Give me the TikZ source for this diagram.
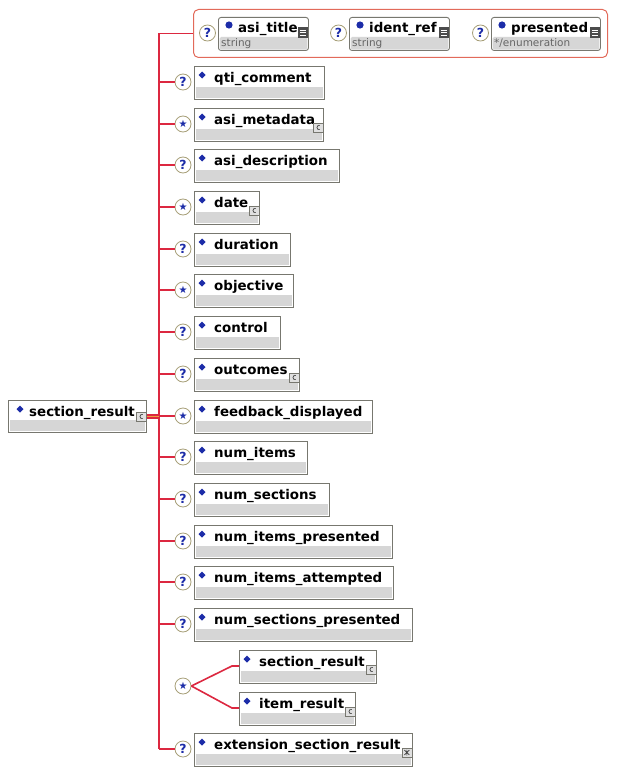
\documentclass[tikz,border=0pt]{standalone}
\usepackage{fontspec}
\usetikzlibrary{positioning}
\newfontfamily\elfont{DejaVu Sans}

\definecolor{linkred}{HTML}{DC2840}
\definecolor{linkorange}{HTML}{F0A040}
\definecolor{framered}{HTML}{E26A5A}
\definecolor{boxgray}{HTML}{77776F}
\definecolor{bandgray}{HTML}{D6D6D6}
\definecolor{occgray}{HTML}{A79F78}
\definecolor{markblue}{HTML}{1C2CA8}

\newcommand\starmark{{\fontsize{10}{10}\selectfont ★}}

\tikzset{
  elbox/.style={draw=boxgray, line width=0.9pt, fill=white, anchor=north west,
                minimum height=33pt, inner sep=0pt},
  attbox/.style={elbox, rounded corners=2.5pt},
  occ/.style={circle, draw=occgray, fill=white, line width=0.8pt, minimum size=16pt,
              inner sep=0pt, text=markblue, font=\elfont\bfseries\fontsize{12.5}{12}\selectfont},
  conn/.style={draw=linkred, line width=1.6pt},
  lbl/.style={anchor=base west, inner sep=0pt, font=\elfont\bfseries\fontsize{13.4}{16}\selectfont},
  sub/.style={anchor=base west, inner sep=0pt, text=black!60, font=\elfont\fontsize{10.5}{12}\selectfont},
  % ── 小图标（左上角为原点，y 向下）──
  dmark/.pic={\fill[markblue] (0,-3.5) -- (3.5,0) -- (0,3.5) -- (-3.5,0) -- cycle;},
  amark/.pic={\fill[markblue] (0,0) circle (3.6);},
  nicon/.pic={},
  cicon/.pic={\draw[boxgray, fill=black!12, line width=0.5pt] (0,0) rectangle (10,9);
              \draw[black!75, line width=0.7pt] (6.8,2.4) .. controls (3.2,1.6) and (3.2,7.4) .. (6.8,6.6);},
  xicon/.pic={\draw[boxgray, fill=black!12, line width=0.5pt] (0,0) rectangle (10,9);
              \draw[black!75, line width=0.6pt] (2.5,2) -- (7.5,7) (2.5,7) -- (7.5,2) (5,1.5) -- (5,7.5);},
  sicon/.pic={\fill[black!70] (0,0) rectangle (10,11);
              \draw[white, line width=0.6pt] (2,3) -- (8,3) (2,5.5) -- (8,5.5) (2,8) -- (8,8);},
}

\begin{document}
\begin{tikzpicture}[x=1pt, y=-1pt]

  % ── 根元素 section_result ──
  \node[elbox, minimum width=138pt, minimum height=32pt] (root) at (8,400) {};
  \fill[bandgray] ([xshift=2pt,yshift=-20pt]root.north west) rectangle ([xshift=-2pt,yshift=2pt]root.south east);
  \pic at ([xshift=12pt,yshift=-9pt]root.north west) {dmark};
  \node[lbl] (root-l) at ([xshift=21pt,yshift=-16pt]root.north west) {section\_result};
  \pic at ([xshift=-11pt,yshift=-12pt]root.north east) {cicon};

  \coordinate (trunk) at (159,0);

  % ── 属性组（红色圆角框）──
  \node[draw=framered, line width=1pt, rounded corners=5pt, minimum width=414pt,
        minimum height=48pt, anchor=north west, inner sep=0pt] (attrs) at (193,9) {};
  \foreach \nm/\x/\w/\lab/\typ in {at/218/90/asi\_title/string,
                                  ir/349/100/ident\_ref/string,
                                  pr/491/109/presented/{*/enumeration}}
  {
    \node[occ] (o-\nm) at (\x-10.5,33) {?};
    \node[attbox, minimum width=\w pt] (a-\nm) at (\x,17) {};
    \fill[bandgray, rounded corners=1.5pt] ([xshift=1.5pt,yshift=-20pt]a-\nm.north west) rectangle ([xshift=-1.5pt,yshift=1.5pt]a-\nm.south east);
    \pic at ([xshift=11pt,yshift=-8pt]a-\nm.north west) {amark};
    \node[lbl] at ([xshift=20pt,yshift=-16pt]a-\nm.north west) {\lab};
    \node[sub] at ([xshift=3pt,yshift=-30pt]a-\nm.north west) {\typ};
    \pic at ([xshift=-11pt,yshift=-10pt]a-\nm.north east) {sicon};
  }

  % ── 子元素序列 ──
  \foreach \k/\nm/\w/\lab/\occ/\ico in {0/qti/130/qti\_comment/?/nicon,
                                       1/meta/129/asi\_metadata/\starmark/cicon,
                                       2/desc/145/asi\_description/?/nicon,
                                       3/date/65/date/\starmark/cicon,
                                       4/dur/96/duration/?/nicon,
                                       5/obj/99/objective/\starmark/nicon,
                                       6/ctrl/86/control/?/nicon,
                                       7/outc/105/outcomes/?/cicon,
                                       8/fbd/178/feedback\_displayed/\starmark/nicon,
                                       9/nitm/113/num\_items/?/nicon,
                                       10/nsec/135/num\_sections/?/nicon,
                                       11/nip/198/num\_items\_presented/?/nicon,
                                       12/nia/199/num\_items\_attempted/?/nicon,
                                       13/nsp/218/num\_sections\_presented/?/nicon,
                                       16/ext/218/extension\_section\_result/?/xicon}
  {
    \pgfmathsetmacro\ytop{round(66+41.7*\k)}
    \node[occ] (o-\nm) at (183,\ytop+16) {\occ};
    \node[elbox, minimum width=\w pt] (e-\nm) at (194,\ytop) {};
    \fill[bandgray] ([xshift=2pt,yshift=-21pt]e-\nm.north west) rectangle ([xshift=-2pt,yshift=2pt]e-\nm.south east);
    \pic at ([xshift=8pt,yshift=-9pt]e-\nm.north west) {dmark};
    \node[lbl] at ([xshift=20pt,yshift=-16pt]e-\nm.north west) {\lab};
    \pic at ([xshift=-11pt,yshift=-15pt]e-\nm.north east) {\ico};
    \draw[conn] (trunk |- o-\nm.west) -- (o-\nm.west);
  }

  % ── 选择组：section_result / item_result ──
  \node[occ] (o-ch) at (183,686) {\starmark};
  \foreach \nm/\ytop/\w/\lab in {sres/650/137/section\_result, ires/692/116/item\_result}
  {
    \node[elbox, minimum width=\w pt] (e-\nm) at (239,\ytop) {};
    \fill[bandgray] ([xshift=2pt,yshift=-21pt]e-\nm.north west) rectangle ([xshift=-2pt,yshift=2pt]e-\nm.south east);
    \pic at ([xshift=8pt,yshift=-9pt]e-\nm.north west) {dmark};
    \node[lbl] at ([xshift=20pt,yshift=-16pt]e-\nm.north west) {\lab};
    \pic at ([xshift=-11pt,yshift=-15pt]e-\nm.north east) {cicon};
    \draw[conn] (o-ch.east) -- ([xshift=-7pt,yshift=-16pt]e-\nm.north west) -- ([yshift=-16pt]e-\nm.north west);
  }

  % ── 主干连线 ──
  \draw[conn] (attrs.west) -| (trunk |- o-ext.west);
  \draw[conn, double=linkorange, double distance=1pt] (root.east) -- (trunk |- root.east);

  \path[use as bounding box] (0,0) rectangle (617,776);
\end{tikzpicture}
\end{document}
